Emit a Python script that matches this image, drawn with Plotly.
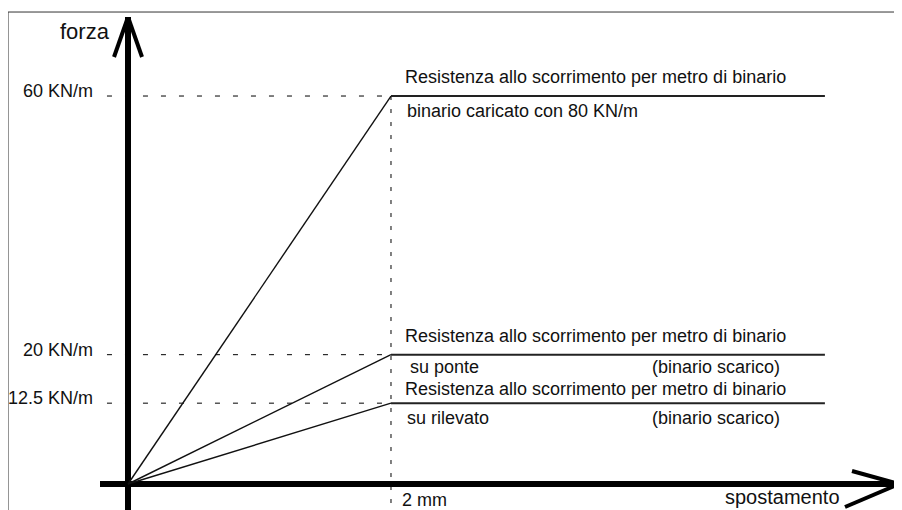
import plotly.graph_objects as go

# resistenza allo scorrimento (KN/m) in funzione dello spostamento (mm)
livelli = [60, 20, 12.5]
etichette_livelli = ["60 KN/m", "20 KN/m", "12.5 KN/m"]
spost_limite = 2        # mm, fine del tratto elastico
spost_fine = 5.3        # mm, fine del tratto disegnato
titoli = ["Resistenza allo scorrimento per metro di binario"] * 3
note_sx = ["binario caricato con 80 KN/m", "su ponte", "su rilevato"]
note_dx = ["", "(binario scarico)", "(binario scarico)"]

X_RANGE = [-0.213, 5.833]
Y_RANGE = [-4.02, 72.22]
FONT = "Arial, Liberation Sans, sans-serif"

fig = go.Figure()

# linee di richiamo tratteggiate
for liv in livelli:
    fig.add_trace(go.Scatter(x=[-0.16, spost_limite], y=[liv, liv], mode="lines",
                             line=dict(color="black", width=1, dash="5px,13px"), hoverinfo="skip"))
fig.add_trace(go.Scatter(x=[spost_limite, spost_limite], y=[max(livelli), Y_RANGE[0]], mode="lines",
                         line=dict(color="black", width=1, dash="4px,9px"), hoverinfo="skip"))

# leggi bilineari
for liv in livelli:
    fig.add_trace(go.Scatter(x=[0, spost_limite], y=[0, liv], mode="lines",
                             line=dict(color="#111111", width=1.4)))
    fig.add_trace(go.Scatter(x=[spost_limite, spost_fine], y=[liv, liv], mode="lines",
                             line=dict(color="#222222", width=2)))

ann = []
def testo(text, x, y, xanchor="left", xshift=0, yshift=0, size=18, xref="x", yref="y"):
    ann.append(dict(text=text, x=x, y=y, xref=xref, yref=yref, xanchor=xanchor, yanchor="middle",
                    xshift=xshift, yshift=yshift, showarrow=False,
                    font=dict(family=FONT, size=size, color="#111111")))

sopra = [19, 19, 14]
sotto = [-15, -12, -15]
for i, liv in enumerate(livelli):
    testo(etichette_livelli[i], 0, liv, "right", -33, 5)
    testo(titoli[i], spost_limite, liv, "left", 12, sopra[i])
    testo(note_sx[i], spost_limite, liv, "left", 14 if i != 1 else 17, sotto[i])
    if note_dx[i]:
        testo(note_dx[i], spost_fine, liv, "right", -43, sotto[i])

testo("forza", 0, 1, "right", -16, -14, size=22, yref="paper")
testo("spostamento", 1, 0, "right", -53, -13, size=20, xref="paper")
testo("2 mm", spost_limite, 0, "left", 9, -16)

# frecce degli assi e cornice
freccia = dict(color="black", width=4)
shapes = [
    dict(type="line", xref="x", yref="y", xsizemode="pixel", ysizemode="pixel",
         xanchor=0, yanchor=Y_RANGE[1], x0=-14, y0=-40, x1=0, y1=0, line=freccia),
    dict(type="line", xref="x", yref="y", xsizemode="pixel", ysizemode="pixel",
         xanchor=0, yanchor=Y_RANGE[1], x0=14, y0=-40, x1=0, y1=0, line=freccia),
    dict(type="line", xref="x", yref="y", xsizemode="pixel", ysizemode="pixel",
         xanchor=X_RANGE[1], yanchor=0, x0=-43, y0=13, x1=4, y1=0, line=freccia),
    dict(type="line", xref="x", yref="y", xsizemode="pixel", ysizemode="pixel",
         xanchor=X_RANGE[1], yanchor=0, x0=-50, y0=-23, x1=4, y1=0, line=freccia),
    dict(type="line", xref="paper", yref="paper", x0=-0.1157, x1=1.02, y0=1.0101, y1=1.0101,
         line=dict(color="#333333", width=1)),
    dict(type="line", xref="paper", yref="paper", x0=-0.1157, x1=-0.1157, y0=-0.01, y1=1.0101,
         line=dict(color="#333333", width=1)),
]

# la pagina ha 8px di margine: la figura viene spostata di conseguenza
asse = dict(showgrid=False, showticklabels=False, ticks="", showline=False,
            zeroline=True, zerolinecolor="black", zerolinewidth=6, fixedrange=True)
fig.update_layout(
    width=902, height=510,
    margin=dict(l=92, r=15, t=9, b=8),
    paper_bgcolor="white", plot_bgcolor="white",
    showlegend=False,
    xaxis=dict(range=X_RANGE, **asse),
    yaxis=dict(range=Y_RANGE, **asse),
    annotations=ann,
    shapes=shapes,
)

fig.write_html("out.html")
